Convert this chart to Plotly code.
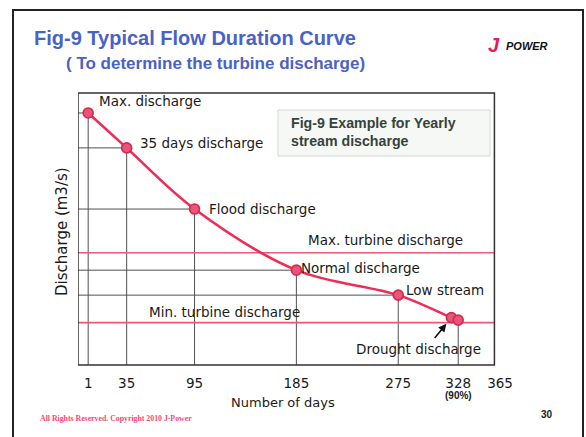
import plotly.graph_objects as go

# Flow duration curve data
days = [1, 35, 95, 185, 275, 322, 328]
discharge = [101, 87, 62.5, 38, 28, 19, 18]
point_names = ["Max. discharge", "35 days discharge", "Flood discharge",
               "Normal discharge", "Low stream"]
tick_days = [1, 35, 95, 185, 275, 328, 365]
max_turbine = 45
min_turbine = 17

# Layout geometry
WIDTH, HEIGHT = 586, 437
ML, MR, MT, MB = 78, 78, 93, 72
PW, PH = WIDTH - ML - MR, HEIGHT - MT - MB
X_MIN, X_MAX = -8, 372
FRAME_END = 360
Y_MAX = 109


def px_x(px):
    return (px - ML) / PW


def px_y(py):
    return (HEIGHT - MB - py) / PH


RED = "#ee2c55"
PINK = "#f0587a"
GUIDE = "#505050"
FONT = "DejaVu Sans"

fig = go.Figure()

# thin guide lines: verticals down to the axis, horizontals back to the y axis
gx, gy = [], []
for i, (d, q) in enumerate(zip(days, discharge)):
    if d == 322:
        continue
    gx += [d, d, None]
    gy += [0, q, None]
    if i < len(point_names):
        gx += [X_MIN, d, None]
        gy += [q, q, None]
fig.add_trace(go.Scatter(x=gx, y=gy, mode="lines",
                         line=dict(color=GUIDE, width=1), hoverinfo="skip"))

# turbine discharge limits
for level in (max_turbine, min_turbine):
    fig.add_trace(go.Scatter(x=[X_MIN, FRAME_END], y=[level, level], mode="lines",
                             line=dict(color=PINK, width=1.6), hoverinfo="skip"))

# duration curve
fig.add_trace(go.Scatter(
    x=days, y=discharge, mode="lines+markers",
    line=dict(color=RED, width=2.6, shape="spline", smoothing=1.0),
    marker=dict(size=10, color="#e8557a", line=dict(color="#d8264c", width=1.6)),
))

annotations = []

# point labels (xshift, yshift in px)
offsets = [(9, 12), (11, 5), (12, 0), (3, 2), (6, 5)]
for name, d, q, (dx, dy) in zip(point_names, days, discharge, offsets):
    annotations.append(dict(x=d, y=q, xref="x", yref="y", text=name, showarrow=False,
                            xanchor="left", yanchor="middle", xshift=dx, yshift=dy,
                            font=dict(family=FONT, size=13.5, color="#1a1a1a")))

annotations.append(dict(x=FRAME_END, y=max_turbine, xref="x", yref="y",
                        text="Max. turbine discharge", showarrow=False,
                        xanchor="right", yanchor="middle", xshift=-29, yshift=13,
                        font=dict(family=FONT, size=13.5, color="#1a1a1a")))
annotations.append(dict(x=X_MIN, y=min_turbine, xref="x", yref="y",
                        text="Min. turbine discharge", showarrow=False,
                        xanchor="left", yanchor="middle", xshift=69, yshift=11,
                        font=dict(family=FONT, size=13.5, color="#1a1a1a")))
annotations.append(dict(x=days[-1], y=0, xref="x", yref="y",
                        text="Drought discharge", showarrow=False,
                        xanchor="center", yanchor="middle", xshift=-40, yshift=16,
                        font=dict(family=FONT, size=13.5, color="#1a1a1a")))
annotations.append(dict(x=days[-2], y=discharge[-2], xref="x", yref="y", text="",
                        showarrow=True, arrowhead=2, arrowsize=1, arrowwidth=1.6,
                        arrowcolor="#111", ax=-18, ay=22, standoff=8))

# "(90%)" under the 328 tick
annotations.append(dict(x=328, y=px_y(395), xref="x", yref="paper", text="<b>(90%)</b>",
                        showarrow=False, xanchor="center", yanchor="middle",
                        font=dict(family="Liberation Sans", size=10, color="#1a1a1a")))

# axis titles
annotations.append(dict(x=px_x(283), y=px_y(402), xref="paper", yref="paper",
                        text="Number of days", showarrow=False,
                        xanchor="center", yanchor="middle",
                        font=dict(family=FONT, size=13, color="#1a1a1a")))
annotations.append(dict(x=px_x(62), y=px_y(232), xref="paper", yref="paper",
                        text="Discharge (m3/s)", showarrow=False, textangle=-90,
                        xanchor="center", yanchor="middle",
                        font=dict(family=FONT, size=15, color="#1a1a1a")))

# inset caption box text
annotations.append(dict(x=px_x(289), y=px_y(132), xref="paper", yref="paper",
                        text="<b>Fig-9 Example for Yearly<br>stream discharge</b>",
                        showarrow=False, xanchor="left", yanchor="middle", align="left",
                        font=dict(family="Liberation Sans", size=14.2, color="#35433c")))

# slide title
annotations.append(dict(x=px_x(32), y=px_y(38), xref="paper", yref="paper",
                        text="<b>Fig-9 Typical Flow Duration Curve</b>", showarrow=False,
                        xanchor="left", yanchor="middle",
                        font=dict(family="Liberation Sans", size=20, color="#4a62c6")))
annotations.append(dict(x=px_x(64), y=px_y(64), xref="paper", yref="paper",
                        text="<b>( To determine the turbine discharge)</b>", showarrow=False,
                        xanchor="left", yanchor="middle",
                        font=dict(family="Liberation Sans", size=17, color="#4a62c6")))

# logo
annotations.append(dict(x=px_x(502), y=px_y(45), xref="paper", yref="paper",
                        text="<b><i>J</i></b>", showarrow=False,
                        xanchor="right", yanchor="middle",
                        font=dict(family="Liberation Sans", size=20, color="#e0205a")))
annotations.append(dict(x=px_x(504), y=px_y(46), xref="paper", yref="paper",
                        text="<b><i>POWER</i></b>", showarrow=False,
                        xanchor="left", yanchor="middle",
                        font=dict(family="Liberation Sans", size=11, color="#111")))

# footer
annotations.append(dict(x=px_x(38), y=px_y(418), xref="paper", yref="paper",
                        text="<b>All Rights Reserved. Copyright 2010 J-Power</b>",
                        showarrow=False, xanchor="left", yanchor="middle",
                        font=dict(family="Liberation Serif", size=7.8, color="#f04a78")))
annotations.append(dict(x=px_x(547), y=px_y(414), xref="paper", yref="paper",
                        text="<b>30</b>", showarrow=False, xanchor="center", yanchor="middle",
                        font=dict(family="Liberation Sans", size=10, color="#222")))

shapes = [
    # chart frame
    dict(type="rect", xref="x", yref="paper", x0=X_MIN, x1=FRAME_END, y0=0, y1=1,
         line=dict(color="#333", width=1.5), layer="above"),
    # inset caption box
    dict(type="rect", xref="paper", yref="paper",
         x0=px_x(278), x1=px_x(490), y0=px_y(156), y1=px_y(110),
         line=dict(color="#d4d8d4", width=1), fillcolor="#f6f8f6", layer="below"),
    # slide border
    dict(type="rect", xref="paper", yref="paper",
         x0=px_x(13), x1=px_x(583), y0=px_y(450), y1=px_y(10),
         line=dict(color="#222", width=2)),
]

fig.update_layout(
    width=WIDTH, height=HEIGHT,
    margin=dict(l=ML, r=MR, t=MT, b=MB),
    paper_bgcolor="white", plot_bgcolor="white",
    showlegend=False,
    annotations=annotations,
    shapes=shapes,
    xaxis=dict(range=[X_MIN, X_MAX], tickmode="array", tickvals=tick_days,
               ticktext=[str(t) for t in tick_days], showgrid=False, zeroline=False,
               showline=False, ticks="", ticklabelstandoff=8,
               tickfont=dict(family=FONT, size=13.5, color="#1a1a1a")),
    yaxis=dict(range=[0, Y_MAX], showgrid=False, zeroline=False, showline=False,
               showticklabels=False, ticks=""),
)

fig.write_html("out.html")
